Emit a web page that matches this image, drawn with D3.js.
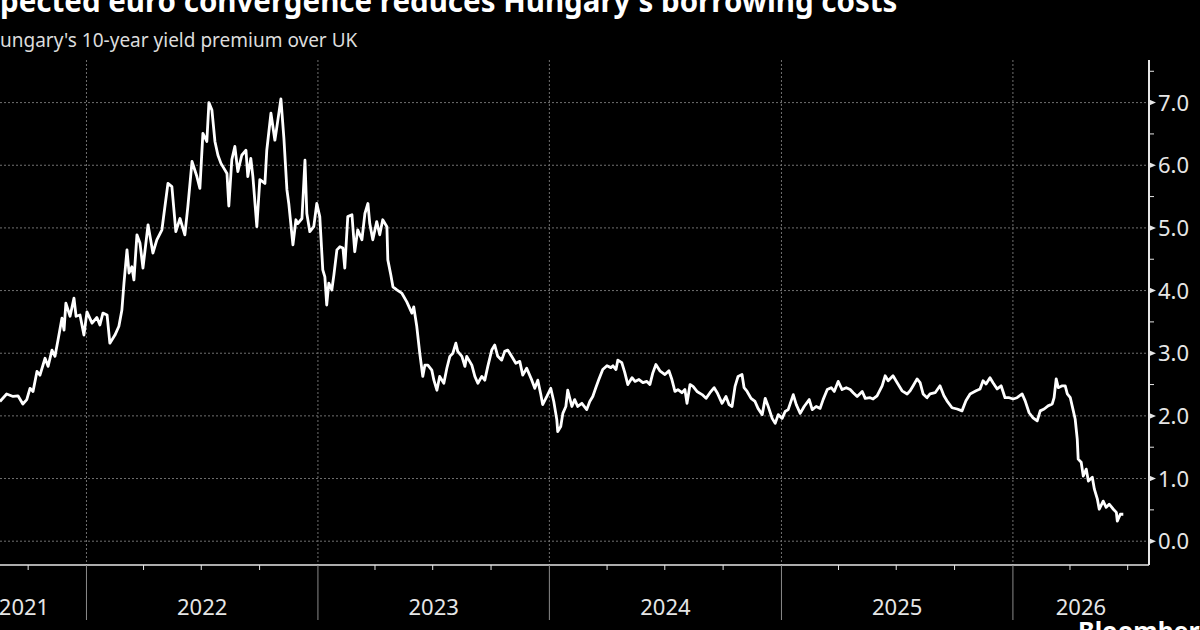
<!DOCTYPE html>
<html>
<head>
<meta charset="utf-8">
<script src="https://cdn.jsdelivr.net/npm/d3@7"></script>
<style>
  html, body { margin: 0; padding: 0; background: #000; }
  svg { display: block; background: #000; }
  text { font-family: "Noto Sans", sans-serif; }
</style>
</head>
<body>
<svg id="chart" width="1200" height="630"></svg>
<script>
const title = "Expected euro convergence reduces Hungary's borrowing costs"
const subtitle = "Hungary's 10-year yield premium over UK"
const source = "Source: Bloomberg"

// decimal year of each observation
const years = [
2021.626,2021.655,2021.683,2021.704,2021.725,2021.742,2021.756,2021.769,2021.786,2021.799,
2021.821,2021.834,2021.851,2021.864,2021.877,2021.894,2021.903,2021.911,2021.929,2021.946,
2021.955,2021.972,2021.989,2022.002,2022.024,2022.045,2022.058,2022.071,2022.089,2022.101,
2022.123,2022.140,2022.153,2022.162,2022.175,2022.184,2022.196,2022.205,2022.218,2022.231,
2022.244,2022.266,2022.287,2022.304,2022.326,2022.335,2022.352,2022.369,2022.386,2022.404,
2022.425,2022.438,2022.456,2022.477,2022.490,2022.503,2022.520,2022.529,2022.542,2022.555,
2022.568,2022.581,2022.594,2022.607,2022.615,2022.628,2022.641,2022.654,2022.671,2022.689,
2022.697,2022.710,2022.719,2022.736,2022.749,2022.771,2022.779,2022.797,2022.814,2022.823,
2022.840,2022.853,2022.866,2022.874,2022.892,2022.905,2022.913,2022.931,2022.944,2022.952,
2022.965,2022.982,2022.995,2023.008,2023.021,2023.030,2023.038,2023.047,2023.060,2023.069,
2023.082,2023.095,2023.108,2023.116,2023.129,2023.147,2023.159,2023.172,2023.190,2023.203,
2023.216,2023.224,2023.237,2023.254,2023.267,2023.280,2023.298,2023.302,2023.315,2023.324,
2023.341,2023.362,2023.384,2023.406,2023.414,2023.427,2023.440,2023.453,2023.462,2023.475,
2023.492,2023.501,2023.514,2023.526,2023.544,2023.557,2023.570,2023.583,2023.596,2023.604,
2023.622,2023.635,2023.643,2023.665,2023.678,2023.691,2023.708,2023.721,2023.734,2023.751,
2023.764,2023.777,2023.794,2023.807,2023.820,2023.837,2023.855,2023.872,2023.885,2023.902,
2023.924,2023.937,2023.950,2023.963,2023.971,2023.989,2024.006,2024.019,2024.032,2024.036,
2024.049,2024.058,2024.071,2024.079,2024.097,2024.109,2024.122,2024.140,2024.161,2024.174,
2024.187,2024.200,2024.213,2024.230,2024.248,2024.265,2024.274,2024.287,2024.295,2024.312,
2024.325,2024.338,2024.356,2024.369,2024.386,2024.403,2024.420,2024.433,2024.446,2024.459,
2024.476,2024.498,2024.515,2024.528,2024.541,2024.554,2024.571,2024.584,2024.593,2024.606,
2024.619,2024.636,2024.658,2024.675,2024.692,2024.710,2024.723,2024.744,2024.761,2024.774,
2024.787,2024.800,2024.813,2024.830,2024.839,2024.852,2024.869,2024.886,2024.899,2024.917,
2024.930,2024.943,2024.960,2024.973,2024.986,2025.003,2025.016,2025.029,2025.051,2025.064,
2025.081,2025.098,2025.120,2025.133,2025.150,2025.167,2025.180,2025.198,2025.215,2025.228,
2025.245,2025.262,2025.280,2025.297,2025.310,2025.327,2025.349,2025.362,2025.383,2025.396,
2025.413,2025.435,2025.448,2025.461,2025.482,2025.500,2025.521,2025.543,2025.556,2025.569,
2025.586,2025.599,2025.612,2025.629,2025.642,2025.664,2025.685,2025.702,2025.715,2025.737,
2025.759,2025.780,2025.797,2025.815,2025.841,2025.858,2025.871,2025.884,2025.901,2025.914,
2025.932,2025.949,2025.966,2025.984,2026.001,2026.018,2026.040,2026.053,2026.070,2026.087,
2026.105,2026.118,2026.135,2026.152,2026.170,2026.178,2026.187,2026.196,2026.213,2026.226,
2026.235,2026.248,2026.261,2026.269,2026.278,2026.282,2026.295,2026.304,2026.317,2026.326,
2026.343,2026.352,2026.365,2026.373,2026.390,2026.403,2026.416,2026.434,2026.447,2026.451,
2026.464,2026.477]

// yield premium, percentage points
const premium = [
2.23,2.35,2.31,2.32,2.19,2.26,2.44,2.39,2.71,2.65,
2.92,2.79,3.05,2.95,3.21,3.56,3.37,3.80,3.59,3.88,
3.59,3.61,3.29,3.66,3.48,3.57,3.45,3.64,3.61,3.16,
3.29,3.43,3.69,4.12,4.65,4.28,4.38,4.17,4.89,4.76,
4.36,5.05,4.60,4.81,4.97,5.23,5.71,5.66,4.94,5.15,
4.89,5.34,6.06,5.82,5.63,6.51,6.38,7.00,6.88,6.38,
6.16,6.03,5.95,5.87,5.35,6.09,6.30,5.90,6.16,6.24,
5.82,6.11,5.82,5.02,5.77,5.71,6.24,6.83,6.40,6.62,
7.06,6.43,5.61,5.39,4.73,5.13,5.07,5.15,6.08,5.23,
4.94,5.02,5.39,5.18,4.33,4.22,3.77,4.12,4.01,4.25,
4.65,4.70,4.68,4.36,5.18,5.21,4.62,4.97,4.81,5.23,
5.39,5.07,4.81,5.10,4.89,5.13,5.02,4.49,4.25,4.06,
4.01,3.96,3.82,3.64,3.74,3.43,3.00,2.63,2.81,2.81,
2.73,2.57,2.41,2.63,2.52,2.76,2.95,3.00,3.16,3.03,
2.95,2.79,2.95,2.81,2.63,2.52,2.63,2.57,2.79,3.05,
3.13,2.95,2.89,3.03,3.05,2.95,2.84,2.87,2.65,2.76,
2.57,2.44,2.57,2.34,2.18,2.31,2.44,2.23,1.94,1.75,
1.83,2.04,2.15,2.41,2.15,2.26,2.15,2.20,2.10,2.23,
2.31,2.45,2.58,2.74,2.80,2.77,2.80,2.74,2.89,2.85,
2.69,2.50,2.61,2.55,2.58,2.53,2.55,2.50,2.69,2.82,
2.72,2.66,2.72,2.58,2.39,2.42,2.37,2.42,2.20,2.50,
2.47,2.39,2.34,2.28,2.37,2.45,2.37,2.20,2.31,2.18,
2.15,2.47,2.63,2.66,2.45,2.39,2.28,2.23,2.12,2.02,
2.28,2.15,1.96,1.88,2.02,1.96,2.07,2.10,2.34,2.18,
2.04,2.15,2.26,2.10,2.15,2.12,2.26,2.42,2.45,2.39,
2.55,2.42,2.45,2.42,2.37,2.31,2.39,2.28,2.29,2.27,
2.32,2.48,2.64,2.56,2.64,2.53,2.40,2.35,2.40,2.48,
2.59,2.53,2.35,2.29,2.35,2.37,2.48,2.32,2.24,2.13,
2.11,2.08,2.24,2.35,2.40,2.43,2.56,2.51,2.61,2.53,
2.43,2.48,2.29,2.29,2.27,2.29,2.35,2.24,2.05,1.97,
1.92,2.08,2.11,2.16,2.19,2.29,2.59,2.45,2.48,2.48,
2.35,2.29,2.08,1.95,1.63,1.31,1.26,1.04,1.15,0.96,
1.02,0.83,0.67,0.51,0.64,0.54,0.59,0.51,0.46,0.32,
0.43,0.43]

const yTicks = [0, 1, 2, 3, 4, 5, 6, 7]
const xStart = 2021.46, xEnd = 2026.588
const yLow = -0.38, yHigh = 7.68

const toDate = t => {
  const y = Math.floor(t)
  const a = new Date(y, 0, 1), b = new Date(y + 1, 0, 1)
  return new Date(+a + (t - y) * (b - a))
}

const data = years.map((t, i) => ({ date: toDate(t), value: premium[i] }))

const dims = { left: -38.5, right: 1149, top: 60, bottom: 565 }

const svg = d3.select("#chart")

const x = d3.scaleTime().domain([toDate(xStart), toDate(xEnd)]).range([dims.left, dims.right])
const y = d3.scaleLinear().domain([yLow, yHigh]).range([dims.bottom, dims.top])

// title, cropped on the left like the reference
const titleText = svg.append("text")
  .attr("y", 12)
  .attr("fill", "#ffffff")
  .attr("font-size", 29.5)
  .attr("font-weight", "bold")
  .text(title)
titleText.attr("x", -titleText.node().getSubStringLength(0, 2))

const subText = svg.append("text")
  .attr("y", 47)
  .attr("fill", "#dcdcdc")
  .attr("font-size", 19)
  .text(subtitle)
subText.attr("x", -subText.node().getSubStringLength(0, 1))

// grid
const grid = svg.append("g")
grid.selectAll(".hgrid").data(yTicks).join("line")
  .attr("x1", 0).attr("x2", dims.right)
  .attr("y1", d => y(d)).attr("y2", d => y(d))
  .attr("stroke", "#707070").attr("stroke-width", 1).attr("stroke-dasharray", "2,2")

const yearStarts = d3.timeYear.range(toDate(xStart), toDate(xEnd))
grid.selectAll(".vgrid").data(yearStarts).join("line")
  .attr("x1", d => x(d)).attr("x2", d => x(d))
  .attr("y1", dims.top).attr("y2", dims.bottom)
  .attr("stroke", "#707070").attr("stroke-width", 1).attr("stroke-dasharray", "2,2")

// line
const line = d3.line().x(d => x(d.date)).y(d => y(d.value))
svg.append("path")
  .datum(data)
  .attr("fill", "none")
  .attr("stroke", "#ffffff")
  .attr("stroke-width", 2.8)
  .attr("stroke-linejoin", "round")
  .attr("d", line)

// x axis
const xAxis = svg.append("g")
xAxis.append("line")
  .attr("x1", 0).attr("x2", dims.right)
  .attr("y1", dims.bottom).attr("y2", dims.bottom)
  .attr("stroke", "#e6e6e6").attr("stroke-width", 1.5)

const quarters = d3.timeMonth.every(3).range(toDate(xStart), toDate(xEnd))
  .filter(d => d.getMonth() !== 0)
xAxis.selectAll(".qtick").data(quarters).join("line")
  .attr("x1", d => x(d)).attr("x2", d => x(d))
  .attr("y1", dims.bottom).attr("y2", dims.bottom + 5)
  .attr("stroke", "#e6e6e6").attr("stroke-width", 1)

xAxis.selectAll(".ytick").data(yearStarts).join("line")
  .attr("x1", d => x(d)).attr("x2", d => x(d))
  .attr("y1", dims.bottom).attr("y2", dims.bottom + 55)
  .attr("stroke", "#8a8a8a").attr("stroke-width", 1)

const yearLabels = d3.range(2021, 2027)
xAxis.selectAll(".ylabel").data(yearLabels).join("text")
  .attr("x", d => {
    const a = Math.max(dims.left, x(new Date(d, 0, 1)))
    const b = Math.min(dims.right, x(new Date(d + 1, 0, 1)))
    return (a + b) / 2
  })
  .attr("y", 615)
  .attr("text-anchor", "middle")
  .attr("fill", "#e6e6e6")
  .attr("font-size", 22)
  .text(d => d)

// y axis on the right
const yAxis = svg.append("g")
yAxis.append("line")
  .attr("x1", dims.right).attr("x2", dims.right)
  .attr("y1", dims.top).attr("y2", dims.bottom)
  .attr("stroke", "#e6e6e6").attr("stroke-width", 2)

const halfTicks = d3.range(0.5, 8, 1).filter(v => v < yHigh)
yAxis.selectAll(".minor").data(halfTicks).join("line")
  .attr("x1", dims.right).attr("x2", dims.right + 5)
  .attr("y1", d => y(d)).attr("y2", d => y(d))
  .attr("stroke", "#e6e6e6").attr("stroke-width", 1)

yAxis.selectAll(".major").data(yTicks).join("path")
  .attr("d", d => `M${dims.right},${y(d) - 3}L${dims.right + 7},${y(d)}L${dims.right},${y(d) + 3}Z`)
  .attr("fill", "#e6e6e6")

yAxis.selectAll(".ylab").data(yTicks).join("text")
  .attr("x", dims.right + 9)
  .attr("y", d => y(d) + 8)
  .attr("fill", "#e6e6e6")
  .attr("font-size", 22)
  .text(d => d.toFixed(1))

// footer, cut off at the bottom edge
const srcText = svg.append("text")
  .attr("y", 644)
  .attr("fill", "#dcdcdc")
  .attr("font-size", 18)
  .text(source)
srcText.attr("x", 55 - srcText.node().getSubStringLength(0, 8))

svg.append("text")
  .attr("x", 1078)
  .attr("y", 640)
  .attr("fill", "#ffffff")
  .attr("font-size", 25)
  .attr("font-weight", "bold")
  .text("Bloomberg")
</script>
</body>
</html>
